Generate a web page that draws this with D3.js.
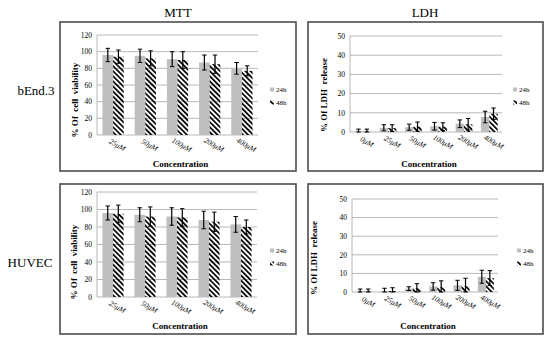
<!DOCTYPE html>
<html>
<head>
<meta charset="utf-8">
<script src="https://cdnjs.cloudflare.com/ajax/libs/d3/7.8.5/d3.min.js"></script>
<style>
  body { margin: 0; background: #fff; }
</style>
</head>
<body>
<div class="chart"></div>
<script>
// categories
var mttDoses = ["25μM", "50μM", "100μM", "200μM", "400μM"];
var ldhDoses = ["0μM", "25μM", "50μM", "100μM", "200μM", "400μM"];
var seriesNames = ["24h", "48h"];

// bEnd.3 values
var bendMtt24 = [96, 95, 91, 87, 80];
var bendMtt24Err = [8, 8, 9, 9, 7];
var bendMtt48 = [94, 92, 90, 85, 77];
var bendMtt48Err = [8, 9, 10, 11, 6];
var bendLdh24 = [0.3, 2.2, 2.5, 3, 4.3, 7.8];
var bendLdh24Err = [1.2, 1.6, 1.6, 2, 2, 3];
var bendLdh48 = [0.3, 2, 2.8, 2.8, 4, 9.5];
var bendLdh48Err = [1.2, 1.8, 2.4, 2, 3, 3];

// HUVEC values
var huvMtt24 = [96, 94, 92, 88, 83];
var huvMtt24Err = [8, 8, 10, 10, 9];
var huvMtt48 = [95, 92, 91, 86, 80];
var huvMtt48Err = [10, 11, 10, 11, 8];
var huvLdh24 = [0.3, 0.5, 1.8, 3, 3.6, 8.2];
var huvLdh24Err = [1.3, 1.5, 1, 2, 2.7, 3.5];
var huvLdh48 = [0.3, 0.5, 2, 2.5, 3.2, 7.5];
var huvLdh48Err = [1.3, 1.8, 2.5, 3.5, 4.2, 4];

// tick values
var mttTicks = [0, 20, 40, 60, 80, 100, 120];
var ldhTicks = [0, 10, 20, 30, 40, 50];

var svg = d3.select(".chart").append("svg")
    .attr("width", 550)
    .attr("height", 341)
    .attr("font-family", "'Liberation Serif', 'Times New Roman', serif");

// hatch pattern for 48h (diagonal "\" stripes)
var defs = svg.append("defs");
defs.append("pattern")
    .attr("id", "hatch")
    .attr("patternUnits", "userSpaceOnUse")
    .attr("width", 3.6)
    .attr("height", 3.6)
    .attr("patternTransform", "rotate(-45)")
    .append("rect")
    .attr("x", 0).attr("y", -1)
    .attr("width", 1.7).attr("height", 6)
    .attr("fill", "#000");

// column and row titles
svg.append("text").attr("x", 178).attr("y", 17).attr("text-anchor", "middle")
    .attr("font-size", "13px").text("MTT");
svg.append("text").attr("x", 425).attr("y", 17).attr("text-anchor", "middle")
    .attr("font-size", "13px").text("LDH");
svg.append("text").attr("x", 36).attr("y", 95).attr("text-anchor", "middle")
    .attr("font-size", "13px").text("bEnd.3");
svg.append("text").attr("x", 30).attr("y", 267).attr("text-anchor", "middle")
    .attr("font-size", "13px").text("HUVEC");

function drawPanel(p) {
    // frame
    svg.append("rect")
        .attr("x", p.box[0]).attr("y", p.box[1])
        .attr("width", p.box[2] - p.box[0]).attr("height", p.box[3] - p.box[1])
        .attr("fill", "#fff").attr("stroke", "#4d4d4d").attr("stroke-width", 1.6);

    var x = d3.scaleBand().domain(p.cats).range([p.x0, p.x1]).padding(0);
    var y = d3.scaleLinear().domain([0, p.max]).range([p.y0, p.y1]);
    var barW = x.bandwidth() * 0.33;
    var g = svg.append("g");

    // gridlines
    g.selectAll(".grid").data(p.ticks).enter().append("line")
        .attr("x1", p.x0).attr("x2", p.x1)
        .attr("y1", function(d) { return y(d); })
        .attr("y2", function(d) { return y(d); })
        .attr("stroke", "#a6a6a6").attr("stroke-width", 0.8);
    g.append("line").attr("x1", p.x0).attr("x2", p.x0)
        .attr("y1", p.y0).attr("y2", p.y1)
        .attr("stroke", "#a6a6a6").attr("stroke-width", 0.8);

    // y tick labels
    g.selectAll(".yt").data(p.ticks).enter().append("text")
        .attr("x", p.x0 - 5)
        .attr("y", function(d) { return y(d) + 2.7; })
        .attr("text-anchor", "end")
        .attr("font-size", "7.5px")
        .text(function(d) { return d; });

    // bars
    var series = [
        { vals: p.s24, errs: p.e24, fill: "#bfbfbf", off: -barW },
        { vals: p.s48, errs: p.e48, fill: "url(#hatch)", off: 0 }
    ];
    series.forEach(function(s) {
        var cx = function(d, i) { return x(p.cats[i]) + x.bandwidth() / 2 + s.off; };
        g.selectAll(null).data(s.vals).enter().append("rect")
            .attr("x", cx)
            .attr("y", function(d) { return y(d); })
            .attr("width", barW)
            .attr("height", function(d) { return p.y0 - y(d); })
            .attr("fill", s.fill);
        var mid = function(d, i) { return cx(d, i) + barW / 2; };
        var lo = function(d, i) { return y(Math.max(0, d - s.errs[i])); };
        var hi = function(d, i) { return y(d + s.errs[i]); };
        g.selectAll(null).data(s.vals).enter().append("line")
            .attr("x1", mid).attr("x2", mid).attr("y1", lo).attr("y2", hi)
            .attr("stroke", "#000").attr("stroke-width", 1.2);
        [lo, hi].forEach(function(fn) {
            g.selectAll(null).data(s.vals).enter().append("line")
                .attr("x1", function(d, i) { return mid(d, i) - 2.2; })
                .attr("x2", function(d, i) { return mid(d, i) + 2.2; })
                .attr("y1", fn).attr("y2", fn)
                .attr("stroke", "#000").attr("stroke-width", 1);
        });
    });

    // x tick labels rotated
    g.selectAll(".xt").data(p.cats).enter().append("text")
        .attr("transform", function(d) {
            return "translate(" + (x(d) + x.bandwidth() / 2 + 3) + "," + (p.y0 + 12) + ") rotate(30)";
        })
        .attr("text-anchor", "middle")
        .attr("font-size", "7.5px")
        .attr("font-style", "italic")
        .text(function(d) { return d; });

    // axis titles
    svg.append("text")
        .attr("transform", "translate(" + p.ylabX + "," + p.ylabY + ") rotate(-90)")
        .attr("text-anchor", "middle")
        .attr("font-size", "9px").attr("font-weight", "bold")
        .attr("xml:space", "preserve")
        .text(p.ylab);
    svg.append("text")
        .attr("x", (p.x0 + p.x1) / 2 + 3).attr("y", p.xlabY)
        .attr("text-anchor", "middle")
        .attr("font-size", "9px").attr("font-weight", "bold")
        .text("Concentration");

    // legend
    seriesNames.forEach(function(n, i) {
        var ly = p.legY + i * 13;
        svg.append("rect").attr("x", p.legX).attr("y", ly - 4.5)
            .attr("width", 4).attr("height", 4)
            .attr("fill", i === 0 ? "#bfbfbf" : "url(#hatch)");
        svg.append("text").attr("x", p.legX + 6).attr("y", ly)
            .attr("font-size", "7px").text(n);
    });
}

drawPanel({ box: [60, 22, 296, 171], cats: mttDoses, x0: 97, x1: 258, y0: 135, y1: 35,
    max: 120, ticks: mttTicks, s24: bendMtt24, e24: bendMtt24Err, s48: bendMtt48, e48: bendMtt48Err,
    ylab: "% Of  cell  viability", ylabX: 78, ylabY: 100, xlabY: 167, legX: 270, legY: 92 });
drawPanel({ box: [308, 22, 543, 171], cats: ldhDoses, x0: 350, x1: 502, y0: 132, y1: 36,
    max: 50, ticks: ldhTicks, s24: bendLdh24, e24: bendLdh24Err, s48: bendLdh48, e48: bendLdh48Err,
    ylab: "% Of LDH  release", ylabX: 327, ylabY: 95, xlabY: 167, legX: 513, legY: 92 });
drawPanel({ box: [60, 184, 296, 334], cats: mttDoses, x0: 97, x1: 257, y0: 297, y1: 192,
    max: 120, ticks: mttTicks, s24: huvMtt24, e24: huvMtt24Err, s48: huvMtt48, e48: huvMtt48Err,
    ylab: "% Of  cell  viability", ylabX: 77, ylabY: 262, xlabY: 329, legX: 270, legY: 253 });
drawPanel({ box: [308, 184, 543, 334], cats: ldhDoses, x0: 352, x1: 498, y0: 292, y1: 199,
    max: 50, ticks: ldhTicks, s24: huvLdh24, e24: huvLdh24Err, s48: huvLdh48, e48: huvLdh48Err,
    ylab: "% Of LDH  release", ylabX: 317, ylabY: 258, xlabY: 329, legX: 517, legY: 253 });
</script>
</body>
</html>
